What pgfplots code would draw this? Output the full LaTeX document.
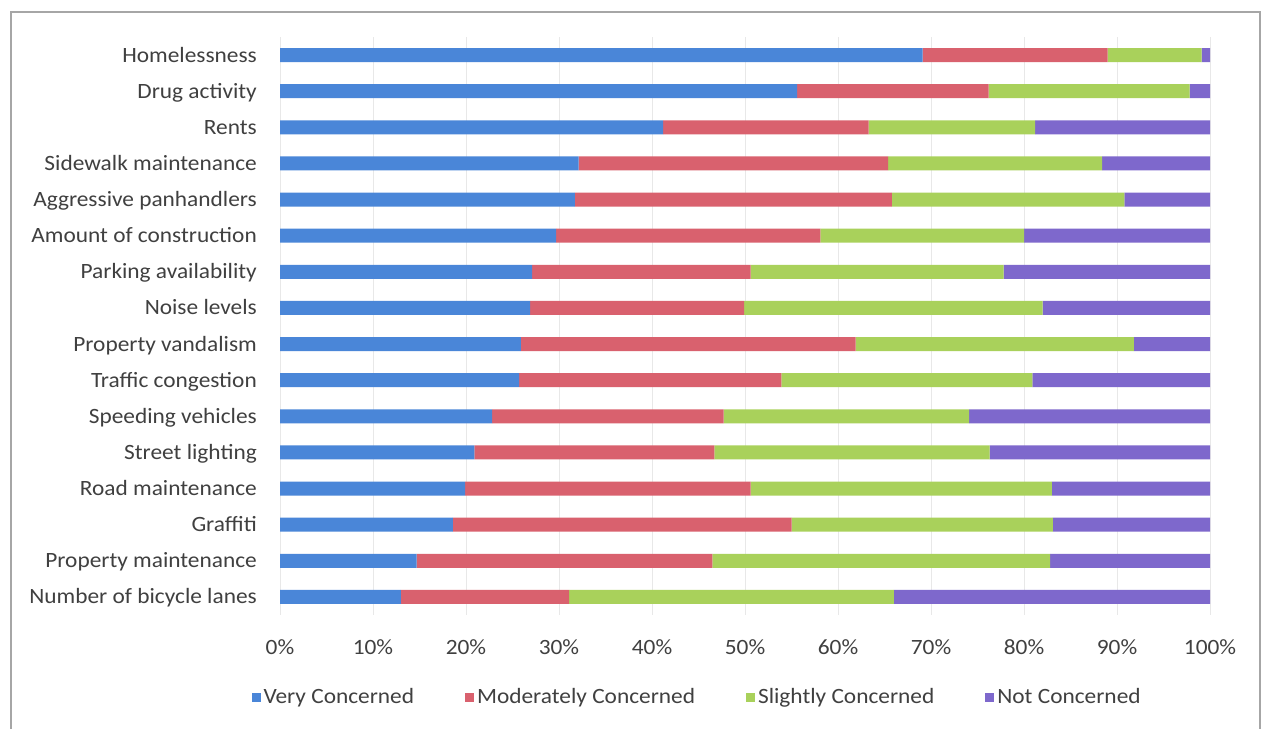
\documentclass[border=0pt]{standalone}
\usepackage{pgfplots}
\pgfplotsset{compat=1.18}
\usepackage{pgfplotstable}
\usepackage{fontspec}
\setmainfont{Carlito}[FakeStretch=1.07]
\definecolor{vblue}{RGB}{74,134,216}
\definecolor{vred}{RGB}{217,97,110}
\definecolor{vgreen}{RGB}{169,209,91}
\definecolor{vpurple}{RGB}{126,104,204}
\definecolor{txt}{RGB}{64,64,64}
\pgfplotstableread{
idx very moderately slightly not
0  69.1 19.9 10.1 0.9
1  55.6 20.6 21.6 2.2
2  41.2 22.1 17.9 18.8
3  32.1 33.3 23.0 11.6
4  31.7 34.1 25.0 9.2
5  29.7 28.4 21.9 20.0
6  27.1 23.5 27.2 22.2
7  26.9 23.0 32.1 18.0
8  25.9 36.0 29.9 8.2
9  25.7 28.2 27.0 19.1
10 22.8 24.9 26.4 25.9
11 20.9 25.8 29.6 23.7
12 19.9 30.7 32.4 17.0
13 18.6 36.4 28.1 16.9
14 14.7 31.8 36.3 17.2
15 13.0 18.1 34.9 34.0
}\datatable
\begin{document}
\begin{tikzpicture}
\useasboundingbox (0bp,0bp) rectangle (1266bp,729bp);
\fill[white] (0bp,0bp) rectangle (1266bp,729bp);
\draw[black!35, line width=1.2bp] (11bp,-20bp) rectangle (1260bp,717bp);
\begin{axis}[
  at={(280bp,114bp)}, anchor=south west,
  width=930bp, height=578bp, scale only axis,
  xbar stacked, bar width=14bp,
  xmin=0, xmax=100, ymin=-0.5, ymax=15.5, y dir=reverse,
  axis line style={draw=none},
  major tick length=0pt,
  xtick={0,10,...,100},
  xticklabels={0\%,10\%,20\%,30\%,40\%,50\%,60\%,70\%,80\%,90\%,100\%},
  ytick={0,...,15},
  yticklabels={Homelessness,Drug activity,Rents,Sidewalk maintenance,Aggressive panhandlers,Amount of construction,Parking availability,Noise levels,Property vandalism,Traffic congestion,Speeding vehicles,Street lighting,Road maintenance,Graffiti,Property maintenance,Number of bicycle lanes},
  xmajorgrids, grid style={black!9, line width=0.8bp},
  font=\fontsize{21.9}{26}\selectfont,
  tick label style={text=txt, inner sep=0pt},
  yticklabel style={anchor=base east, xshift=-23bp, yshift=-7bp},
  xticklabel style={anchor=base, yshift=-39bp},
  legend columns=4,
  legend style={draw=none, fill=none, at={(0.449,-0.142)}, anchor=center,
    font=\fontsize{21.9}{26}\selectfont, text=txt,
    nodes={inner sep=3bp},
    /tikz/every even column/.append style={column sep=48bp}},
  legend image code/.code={\fill[#1,draw=none] (0bp,-4.5bp) rectangle (9bp,4.5bp);},
]
\addplot[fill=vblue, draw=none] table[x=very, y=idx] {\datatable};
\addplot[fill=vred, draw=none] table[x=moderately, y=idx] {\datatable};
\addplot[fill=vgreen, draw=none] table[x=slightly, y=idx] {\datatable};
\addplot[fill=vpurple, draw=none] table[x=not, y=idx] {\datatable};
\legend{Very Concerned, Moderately Concerned, Slightly Concerned, Not Concerned}
\end{axis}
\end{tikzpicture}
\end{document}
